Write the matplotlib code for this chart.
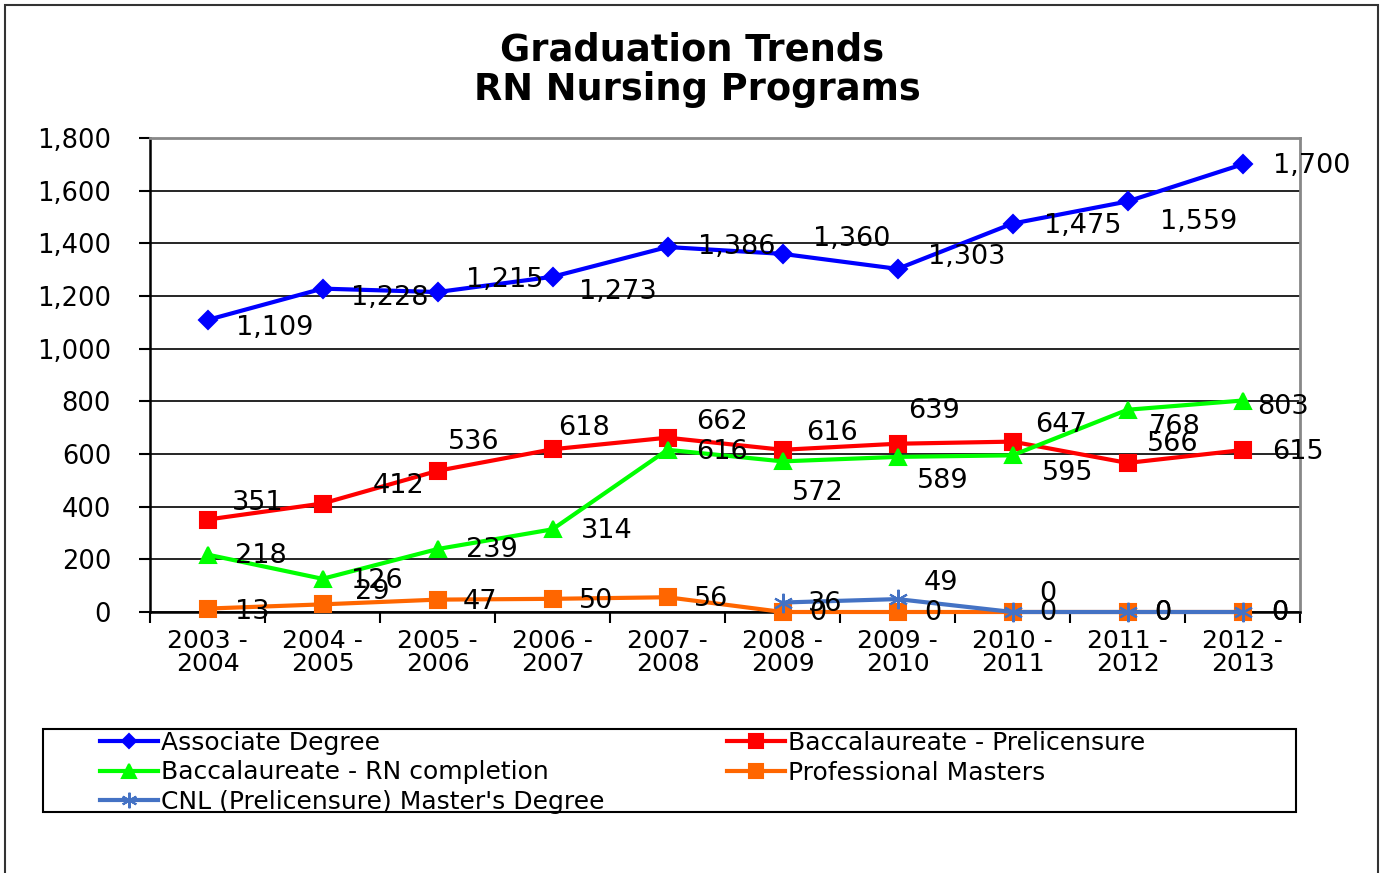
import matplotlib
matplotlib.use("Agg")
import matplotlib.pyplot as plt
from matplotlib.patches import Rectangle

plt.rcParams['font.family'] = ['DejaVu Sans']

categories = ["2003 -\n2004", "2004 -\n2005", "2005 -\n2006", "2006 -\n2007", "2007 -\n2008",
              "2008 -\n2009", "2009 -\n2010", "2010 -\n2011", "2011 -\n2012", "2012 -\n2013"]
associate = [1109, 1228, 1215, 1273, 1386, 1360, 1303, 1475, 1559, 1700]
bacc_prelic = [351, 412, 536, 618, 662, 616, 639, 647, 566, 615]
bacc_rn = [218, 126, 239, 314, 616, 572, 589, 595, 768, 803]
prof_masters = [13, 29, 47, 50, 56, 0, 0, 0, 0, 0]
cnl = [None, None, None, None, None, 36, 49, 0, 0, 0]
yticks = [0, 200, 400, 600, 800, 1000, 1200, 1400, 1600, 1800]

# label offsets in pixels (dx right, dy down)
off_assoc = [(67, 8), (67, 9), (67, -12), (65, 15), (69, 0), (69, -15), (69, -12), (70, 2), (71, 21), (69, 2)]
off_prelic = [(50, -17), (76, -18), (36, -29), (32, -21), (54, -16), (50, -17), (37, -33), (49, -17), (45, -19), (55, 2)]
off_rn = [(53, 1), (54, 2), (54, 1), (54, 2), (54, 2), (35, 32), (45, 24), (55, 18), (47, 17), (40, 6)]
off_prof = [(45, 3), (50, -12), (43, 2), (44, 2), (44, 2), (35, 1), (35, 1), (35, 1), (35, 1), (37, 1)]
off_cnl = [None, None, None, None, None, (43, 1), (43, -16), (35, -18), (35, 1), (37, 1)]

W, H = 1380, 873
fig = plt.figure(figsize=(W / 100, H / 100), dpi=100)
ax = fig.add_axes([150 / W, (H - 612) / H, 1150 / W, 474 / H])

x = list(range(len(categories)))

series = [
    ("Associate Degree", associate, "#0000FF", "D", 9, off_assoc),
    ("Baccalaureate - Prelicensure", bacc_prelic, "#FF0000", "s", 12, off_prelic),
    ("Baccalaureate - RN completion", bacc_rn, "#00FF00", "^", 12, off_rn),
    ("Professional Masters", prof_masters, "#FF6600", "s", 12, off_prof),
    ("CNL (Prelicensure) Master's Degree", cnl, "#4472C4", (6, 2, 0), 14, off_cnl),
]

handles = {}
for name, vals, col, mk, ms, offs in series:
    xs = [xi for xi, v in zip(x, vals) if v is not None]
    ys = [v for v in vals if v is not None]
    ln, = ax.plot(xs, ys, color=col, lw=3, marker=mk, markersize=ms,
                  markeredgecolor=col, markerfacecolor=col, markeredgewidth=1.5,
                  clip_on=False, zorder=3, label=name)
    handles[name] = ln
    for xi, v, o in zip(x, vals, offs):
        if v is None:
            continue
        ax.annotate(f"{v:,}", (xi, v), xytext=(o[0], -o[1]), textcoords='offset pixels',
                    ha='center', va='center', fontsize=19.5, color='black', zorder=5,
                    annotation_clip=False)

ax.set_xlim(-0.5, 9.5)
ax.set_ylim(0, 1800)
ax.set_yticks(yticks)
ax.set_yticklabels([f"{v:,}" for v in yticks], fontsize=18.5)
ax.set_xticks(x)
ax.set_xticklabels(categories, fontsize=18, linespacing=0.95)
ax.tick_params(axis='x', length=0, pad=12)
ax.set_xticks([i + 0.5 for i in range(-1, 10)], minor=True)
ax.tick_params(axis='x', which='minor', length=8, width=1.5, color='black')
ax.tick_params(axis='y', length=8, width=1.5, pad=20, color='black')
ax.grid(axis='y', color='black', lw=1.2, zorder=1)
ax.set_axisbelow(True)
ax.spines['left'].set_color('black')
ax.spines['left'].set_linewidth(1.8)
ax.spines['bottom'].set_color('black')
ax.spines['bottom'].set_linewidth(1.8)
ax.spines['top'].set_color('#888888')
ax.spines['top'].set_linewidth(2)
ax.spines['right'].set_color('#888888')
ax.spines['right'].set_linewidth(2)

fig.text(692 / W, 1 - 50 / H, "Graduation Trends", ha='center', va='center',
         fontsize=26.5, fontweight='bold')
fig.text(697 / W, 1 - 89 / H, "RN Nursing Programs", ha='center', va='center',
         fontsize=26.5, fontweight='bold')

# outer border
fig.patches.append(Rectangle((5 / W, -0.01), (1378 - 5) / W, 1 - 5 / H + 0.01,
                             transform=fig.transFigure, fill=False, edgecolor='#333333', lw=1.5))
# legend box
fig.patches.append(Rectangle((43 / W, 1 - 812 / H), (1296 - 43) / W, (812 - 729) / H,
                             transform=fig.transFigure, fill=False, edgecolor='black', lw=1.5))

order = ["Associate Degree", "Baccalaureate - RN completion", "CNL (Prelicensure) Master's Degree",
         "Baccalaureate - Prelicensure", "Professional Masters"]
leg = fig.legend([handles[n] for n in order], order, ncol=2, loc='upper left',
                 bbox_to_anchor=(95 / W, 1 - 726 / H), frameon=False, fontsize=18,
                 handlelength=2.3, handletextpad=0.15, labelspacing=0.22,
                 columnspacing=4.9, borderaxespad=0, borderpad=0.2, markerscale=0.8)

fig.savefig("out.png", dpi=100)
